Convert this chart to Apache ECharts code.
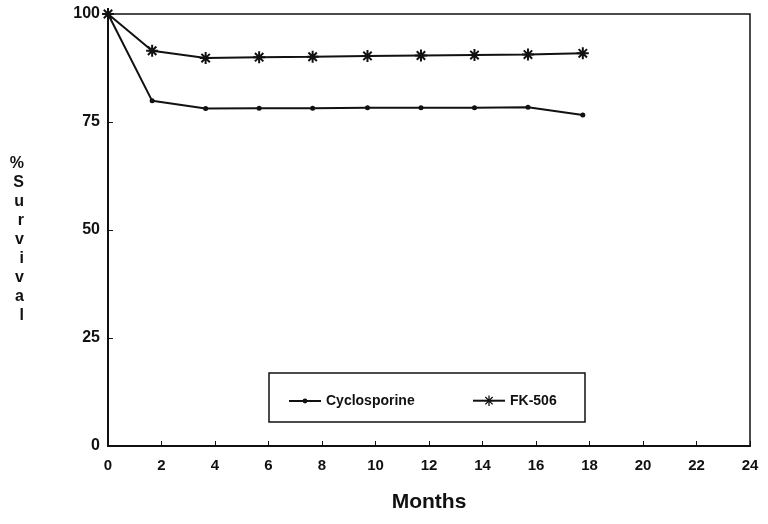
<!DOCTYPE html>
<html>
<head>
<meta charset="utf-8">
<script src="https://cdn.jsdelivr.net/npm/echarts@6/dist/echarts.min.js"></script>
<style>
  html, body { margin: 0; padding: 0; background: #fff; }
  #chart { width: 768px; height: 524px; }
</style>
</head>
<body>
<div id="chart"></div>
<script>
// data
const months = [0, 1.65, 3.65, 5.65, 7.65, 9.7, 11.7, 13.7, 15.7, 17.75]
const cyclosporine = [100, 79.9, 78.1, 78.2, 78.2, 78.3, 78.3, 78.3, 78.4, 76.6]
const fk506 = [100, 91.5, 89.8, 90.0, 90.1, 90.3, 90.4, 90.5, 90.6, 90.9]
const xTicks = [0, 2, 4, 6, 8, 10, 12, 14, 16, 18, 20, 22, 24]
const yTicks = [0, 25, 50, 75, 100]

const font = 'Liberation Sans, Arial, sans-serif'
const asterisk = 'path://M0,5L10,5M5,0L5,10M1.5,1.5L8.5,8.5M8.5,1.5L1.5,8.5'
const legendText = { color: '#111', fontFamily: font, fontWeight: 'bold', fontSize: 14 }

const chart = echarts.init(document.getElementById('chart'))

function pairs(ys) {
  return months.map((m, i) => [m, ys[i]])
}

chart.setOption({
  animation: false,
  backgroundColor: '#fff',
  grid: {
    left: 108,
    top: 14,
    right: 18,
    bottom: 78,
    show: true,
    borderColor: '#111',
    borderWidth: 1.5
  },
  // two legends so each icon can have its own size
  legend: [
    {
      left: 283,
      top: 389,
      itemWidth: 32,
      itemHeight: 6,
      textStyle: legendText,
      data: ['Cyclosporine']
    },
    {
      left: 467,
      top: 388,
      itemWidth: 32,
      itemHeight: 13,
      textStyle: legendText,
      data: [{ name: 'FK-506', itemStyle: { borderWidth: 1.3 } }]
    }
  ],
  graphic: [{
    type: 'rect',
    shape: { x: 269, y: 373, width: 316, height: 49 },
    style: { fill: 'none', stroke: '#111', lineWidth: 1.5 }
  }],
  xAxis: {
    type: 'value',
    min: 0,
    max: 24,
    interval: 2,
    name: 'Months',
    nameLocation: 'middle',
    nameGap: 46,
    nameTextStyle: { color: '#111', fontFamily: font, fontSize: 21, fontWeight: 'bold' },
    axisLine: { lineStyle: { color: '#111', width: 2 } },
    axisTick: { inside: true, length: 5, lineStyle: { color: '#111' } },
    axisLabel: {
      color: '#111', fontFamily: font, fontWeight: 'bold', fontSize: 15, margin: 12,
      formatter: v => xTicks.includes(v) ? String(v) : ''
    },
    splitLine: { show: false }
  },
  yAxis: {
    type: 'value',
    min: 0,
    max: 100,
    interval: 25,
    // leading blank line nudges the stacked letters down a little
    name: '\n%\nS\nu\nr\nv\ni\nv\na\nl',
    nameLocation: 'middle',
    nameRotate: 0,
    nameGap: 84,
    nameTextStyle: {
      color: '#111', fontFamily: font, fontSize: 16, fontWeight: 'bold', lineHeight: 19
    },
    axisLine: { show: true, lineStyle: { color: '#111', width: 2 } },
    axisTick: { show: true, inside: true, length: 5, lineStyle: { color: '#111' } },
    axisLabel: {
      color: '#111', fontFamily: font, fontWeight: 'bold', fontSize: 16, margin: 8,
      formatter: v => yTicks.includes(v) ? String(v) : ''
    },
    splitLine: { show: false }
  },
  series: [
    {
      name: 'Cyclosporine',
      type: 'line',
      data: pairs(cyclosporine),
      symbol: 'circle',
      symbolSize: 5,
      showAllSymbol: true,
      lineStyle: { color: '#111', width: 2 },
      itemStyle: { color: '#111' }
    },
    {
      name: 'FK-506',
      type: 'line',
      data: pairs(fk506),
      symbol: asterisk,
      symbolSize: 12,
      showAllSymbol: true,
      lineStyle: { color: '#111', width: 2 },
      itemStyle: { color: 'none', borderColor: '#111', borderWidth: 2 }
    }
  ]
})
</script>
</body>
</html>
